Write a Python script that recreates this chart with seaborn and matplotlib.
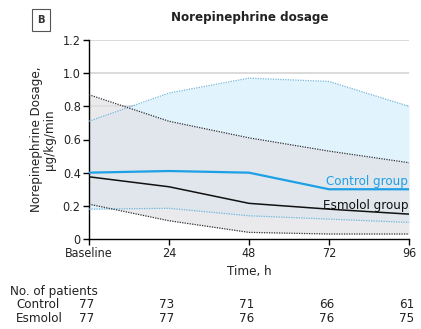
import numpy as np
import pandas as pd
import matplotlib
matplotlib.use("Agg")
import matplotlib.pyplot as plt
import seaborn as sns
from matplotlib import font_manager

# ---- data ----
time_labels = ["Baseline", "24", "48", "72", "96"]
control_mean = [0.40, 0.41, 0.40, 0.30, 0.30]
control_upper = [0.71, 0.88, 0.97, 0.95, 0.80]
control_lower = [0.18, 0.185, 0.14, 0.12, 0.10]
esmolol_mean = [0.375, 0.315, 0.215, 0.18, 0.15]
esmolol_upper = [0.87, 0.71, 0.61, 0.53, 0.46]
esmolol_lower = [0.21, 0.11, 0.04, 0.03, 0.03]
control_n = [77, 73, 71, 66, 61]
esmolol_n = [77, 77, 76, 76, 75]
yticks = [0, 0.2, 0.4, 0.6, 0.8, 1.0, 1.2]
ytick_labels = ["0", "0.2", "0.4", "0.6", "0.8", "1.0", "1.2"]

sns.set_theme(style="white")
plt.rcParams["font.family"] = ["DejaVu Sans"]
plt.rcParams["font.stretch"] = "condensed"
cond = [f for f in font_manager.fontManager.ttflist
        if ("Narrow" in f.name or "Condensed" in f.name or f.stretch in ("condensed", "semi-condensed"))
        and f.style == "normal"]
if cond:
    fam = cond[0].name
    plt.rcParams["font.family"] = [fam, "DejaVu Sans"]

x = np.arange(len(time_labels))
df = pd.DataFrame({
    "x": np.concatenate([x, x]),
    "mean": control_mean + esmolol_mean,
    "upper": control_upper + esmolol_upper,
    "lower": control_lower + esmolol_lower,
    "group": ["Control"] * 5 + ["Esmolol"] * 5,
})

blue = "#1ea0e6"
blue_dot = "#70b6dc"
fs = 9
fig = plt.figure(figsize=(4.21, 3.29), dpi=100)
ax = fig.add_axes([89 / 421, 1 - 239 / 329, 320 / 421, 199 / 329])

for yv in yticks[1:]:
    ax.axhline(yv, color="#d4d4d4", lw=1.2, zorder=0)

# bands
ax.fill_between(x, control_lower, control_upper, color="#e1f3fd", lw=0, zorder=1)
ax.fill_between(x, esmolol_lower, esmolol_upper, color="#e0e1e5", alpha=0.68, lw=0, zorder=2)

dc = df[df.group == "Control"]
de = df[df.group == "Esmolol"]
sns.lineplot(data=dc, x="x", y="upper", ax=ax, color=blue_dot, lw=0.9, ls=(0, (1, 1)), zorder=3)
sns.lineplot(data=dc, x="x", y="lower", ax=ax, color=blue_dot, lw=0.9, ls=(0, (1, 1)), zorder=3)
sns.lineplot(data=de, x="x", y="upper", ax=ax, color="#333333", lw=0.9, ls=(0, (1, 1)), zorder=3)
sns.lineplot(data=de, x="x", y="lower", ax=ax, color="#333333", lw=0.9, ls=(0, (1, 1)), zorder=3)
sns.lineplot(data=dc, x="x", y="mean", ax=ax, color=blue, lw=1.6, zorder=4)
sns.lineplot(data=de, x="x", y="mean", ax=ax, color="#111111", lw=1.1, zorder=4)

ax.set_xlim(0, 4)
ax.set_ylim(0, 1.2)
ax.set_xticks(x)
ax.set_xticklabels(time_labels, fontsize=fs)
ax.set_yticks(yticks)
ax.set_yticklabels(ytick_labels, fontsize=fs)
ax.tick_params(axis="both", direction="out", length=4, width=1, color="black", pad=2,
               bottom=True, left=True, labelcolor="#222222")
for s in ["top", "right"]:
    ax.spines[s].set_visible(False)
for s in ["left", "bottom"]:
    ax.spines[s].set_color("black")
    ax.spines[s].set_linewidth(1)
ax.set_xlabel("")
ax.set_ylabel("Norepinephrine Dosage,\nμg/kg/min", fontsize=fs + 0.5, labelpad=5, linespacing=1.0,
              color="#222222")

ax.text(3.99, 0.345, "Control group", color=blue, fontsize=fs + 0.5, ha="right", va="center")
ax.text(3.99, 0.205, "Esmolol group", color="#111111", fontsize=fs + 0.5, ha="right", va="center")

fig.text(250 / 421, 1 - 18 / 329, "Norepinephrine dosage", ha="center", va="center",
         fontsize=fs + 0.5, fontweight="semibold", color="#222222")
fig.text(41 / 421, 1 - 20 / 329, "B", ha="center", va="center", fontsize=8, fontweight="bold",
         color="#333333", bbox=dict(boxstyle="square,pad=0.5", fc="white", ec="#555555", lw=0.8))
fig.text(249 / 421, 1 - 271 / 329, "Time, h", ha="center", va="center", fontsize=fs + 0.5, color="#222222")
fig.text(10 / 421, 1 - 291 / 329, "No. of patients", ha="left", va="center", fontsize=fs + 0.5, color="#222222")
fig.text(16 / 421, 1 - 304 / 329, "Control", ha="left", va="center", fontsize=fs + 0.5, color="#222222")
fig.text(16 / 421, 1 - 318 / 329, "Esmolol", ha="left", va="center", fontsize=fs + 0.5, color="#222222")
for i in range(5):
    xp = (89 + 80 * i - 2) / 421
    fig.text(xp, 1 - 304 / 329, str(control_n[i]), ha="center", va="center", fontsize=fs + 0.5, color="#222222")
    fig.text(xp, 1 - 318 / 329, str(esmolol_n[i]), ha="center", va="center", fontsize=fs + 0.5, color="#222222")

fig.savefig("out.png", dpi=100)
